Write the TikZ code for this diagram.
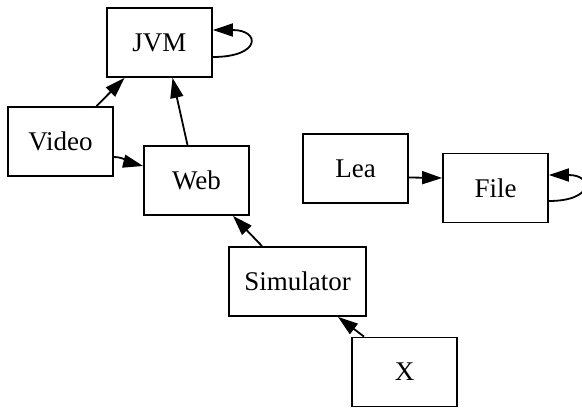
\documentclass[tikz,border=0pt]{standalone}
\usepackage{fontspec}
\setmainfont{Liberation Serif}
\usetikzlibrary{arrows.meta}
\begin{document}
\begin{tikzpicture}[x=1pt,y=-1pt,
  box/.style={draw,rectangle,line width=1.8pt,minimum width=105pt,minimum height=69pt,inner sep=0pt,
    font=\fontsize{27}{30}\selectfont},
  edge/.style={line width=1.8pt,-{Triangle[length=20pt,width=13pt]}}]
\useasboundingbox (0,0) rectangle (582,412);
\node[box] (JVM) at (159.5,42.5) {JVM};
\node[box] (Video) at (60.5,141.5) {Video};
\node[box] (Web) at (196.5,180.5) {Web};
\node[box,minimum width=137pt] (Sim) at (297.5,281.5) {Simulator};
\node[box] (X) at (404.5,372) {X};
\node[box] (Lea) at (355.5,168.5) {Lea};
\node[box] (File) at (495.5,188) {File};
\draw[edge] ([xshift=36pt]Video.north) -- ([xshift=-35pt]JVM.south);
\draw[edge] ([xshift=-9pt]Web.north) -- ([xshift=13pt]JVM.south);
\draw[edge] ([yshift=-15.5pt]Video.east) .. controls +(10,0) and +(-12,-3) .. ([yshift=14.5pt]Web.west);
\draw[edge] ([xshift=-35.5pt]Sim.north) -- ([xshift=36.5pt]Web.south);
\draw[edge] ([xshift=-40.5pt]X.north) -- ([xshift=40.5pt]Sim.south);
\draw[edge] ([yshift=-9pt]Lea.east) -- ([yshift=10pt]File.west);
\draw[edge] ([yshift=-14.5pt]JVM.east) .. controls +(48,0) and +(48,0) .. ([yshift=12.5pt]JVM.east);
\draw[edge] ([yshift=-13pt]File.east) .. controls +(45,0) and +(45,0) .. ([yshift=13pt]File.east);
\end{tikzpicture}
\end{document}
